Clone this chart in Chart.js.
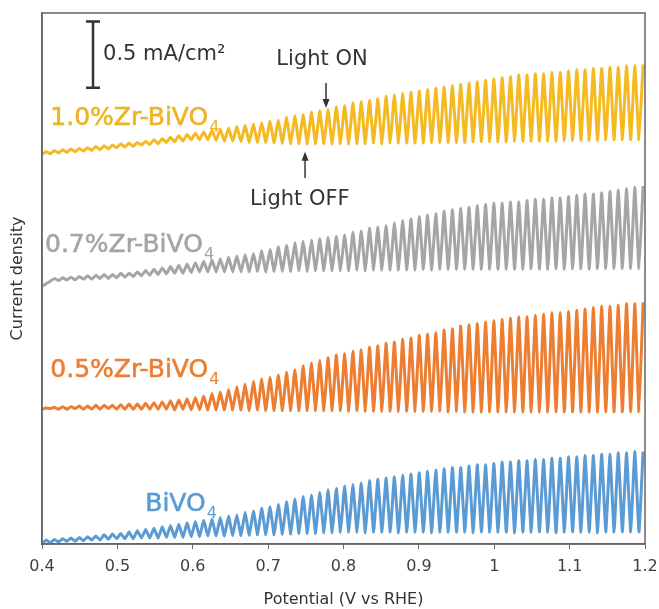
<!DOCTYPE html>
<html lang="en">
<head>
    <title>Chopped-light LSV of Zr-doped BiVO4</title>
    <script src="https://cdn.jsdelivr.net/npm/chart.js"></script>
    <style>
        body { margin: 0; background: #fff; }
        #chartContainer { width: 659px; height: 609px; }
    </style>
</head>
<body>
<div id="chartContainer">
    <canvas id="lsvChart"></canvas>
</div>

<script>
// Potential (V vs RHE) of each dark / light point of the chopped sweep
const darkPotential = [
    0.4, 0.411, 0.422, 0.433, 0.444, 0.455, 0.466, 0.477, 0.488, 0.499,
    0.51, 0.521, 0.532, 0.543, 0.554, 0.565, 0.576, 0.587, 0.598, 0.609,
    0.62, 0.631, 0.642, 0.653, 0.664, 0.675, 0.686, 0.697, 0.708, 0.719,
    0.73, 0.741, 0.752, 0.763, 0.774, 0.785, 0.796, 0.807, 0.818, 0.829,
    0.84, 0.851, 0.862, 0.873, 0.884, 0.895, 0.906, 0.917, 0.928, 0.939,
    0.95, 0.961, 0.972, 0.983, 0.994, 1.005, 1.016, 1.027, 1.038, 1.049,
    1.06, 1.071, 1.082, 1.093, 1.104, 1.115, 1.126, 1.137, 1.148, 1.159,
    1.17, 1.181, 1.192
];
const lightPotential = [
    0.4055, 0.4165, 0.4275, 0.4385, 0.4495, 0.4605, 0.4715, 0.4825, 0.4935, 0.5045,
    0.5155, 0.5265, 0.5375, 0.5485, 0.5595, 0.5705, 0.5815, 0.5925, 0.6035, 0.6145,
    0.6255, 0.6365, 0.6475, 0.6585, 0.6695, 0.6805, 0.6915, 0.7025, 0.7135, 0.7245,
    0.7355, 0.7465, 0.7575, 0.7685, 0.7795, 0.7905, 0.8015, 0.8125, 0.8235, 0.8345,
    0.8455, 0.8565, 0.8675, 0.8785, 0.8895, 0.9005, 0.9115, 0.9225, 0.9335, 0.9445,
    0.9555, 0.9665, 0.9775, 0.9885, 0.9995, 1.0105, 1.0215, 1.0325, 1.0435, 1.0545,
    1.0655, 1.0765, 1.0875, 1.0985, 1.1095, 1.1205, 1.1315, 1.1425, 1.1535, 1.1645,
    1.1755, 1.1865, 1.1975
];

// Series names and the vertical offset (mA/cm2) each trace is stacked at
const seriesNames = ['BiVO4', '0.5%Zr-BiVO4', '0.7%Zr-BiVO4', '1.0%Zr-BiVO4'];
const traceOffset = [0, 1.0, 1.95, 2.95];

// Current density (mA/cm2, relative to the trace offset) - light off
const bivo4Dark = [
    0.00, 0.01, 0.015, 0.02, 0.02, 0.025, 0.03, 0.03, 0.035, 0.04,
    0.04, 0.04, 0.045, 0.045, 0.045, 0.05, 0.05, 0.05, 0.055, 0.055,
    0.06, 0.06, 0.06, 0.065, 0.065, 0.065, 0.07, 0.07, 0.07, 0.075,
    0.075, 0.08, 0.08, 0.08, 0.085, 0.085, 0.09, 0.09, 0.09, 0.085,
    0.09, 0.09, 0.09, 0.085, 0.09, 0.09, 0.09, 0.085, 0.09, 0.09,
    0.09, 0.09, 0.085, 0.09, 0.09, 0.09, 0.09, 0.085, 0.09, 0.09,
    0.09, 0.09, 0.085, 0.09, 0.09, 0.09, 0.09, 0.085, 0.09, 0.09,
    0.09, 0.09, 0.09
];
const zr05Dark = [
    0.02, 0.025, 0.02, 0.02, 0.025, 0.02, 0.02, 0.02, 0.025, 0.02,
    0.02, 0.02, 0.02, 0.02, 0.02, 0.02, 0.015, 0.02, 0.015, 0.015,
    0.015, 0.015, 0.015, 0.015, 0.015, 0.01, 0.015, 0.01, 0.01, 0.01,
    0.01, 0.01, 0.01, 0.01, 0.01, 0.01, 0.01, 0.005, 0.01, 0.005,
    0.005, 0.005, 0.005, 0.005, 0.005, 0.005, 0.005, 0.005, 0.005, 0.0,
    0.005, 0.0, 0.0, 0.0, 0.0, 0.0, 0.0, 0.0, 0.0, 0.0,
    0.0, 0.0, 0.0, 0.0, 0.0, 0.0, 0.0, 0.0, 0.0, 0.0,
    0.0, 0.0, 0.0
];
const zr07Dark = [
    0.00, 0.04, 0.045, 0.05, 0.05, 0.055, 0.055, 0.06, 0.06, 0.065,
    0.07, 0.075, 0.08, 0.085, 0.09, 0.095, 0.10, 0.10, 0.105, 0.11,
    0.11, 0.11, 0.11, 0.11, 0.11, 0.11, 0.115, 0.11, 0.115, 0.115,
    0.115, 0.12, 0.115, 0.12, 0.12, 0.12, 0.12, 0.12, 0.125, 0.12,
    0.125, 0.125, 0.125, 0.125, 0.125, 0.125, 0.13, 0.125, 0.13, 0.13,
    0.13, 0.13, 0.13, 0.13, 0.13, 0.13, 0.13, 0.13, 0.13, 0.135,
    0.13, 0.13, 0.135, 0.13, 0.135, 0.135, 0.13, 0.135, 0.135, 0.135,
    0.135, 0.135, 0.135
];
const zr10Dark = [
    0.00, 0.005, 0.01, 0.015, 0.02, 0.025, 0.03, 0.035, 0.04, 0.05,
    0.055, 0.06, 0.07, 0.075, 0.08, 0.09, 0.095, 0.10, 0.11, 0.11,
    0.11, 0.105, 0.10, 0.10, 0.095, 0.09, 0.09, 0.09, 0.085, 0.085,
    0.08, 0.08, 0.08, 0.08, 0.08, 0.08, 0.08, 0.08, 0.08, 0.08,
    0.085, 0.08, 0.085, 0.085, 0.085, 0.085, 0.085, 0.09, 0.09, 0.09,
    0.09, 0.09, 0.095, 0.095, 0.095, 0.095, 0.095, 0.10, 0.10, 0.10,
    0.10, 0.10, 0.10, 0.105, 0.105, 0.105, 0.105, 0.105, 0.11, 0.11,
    0.11, 0.11, 0.11
];

// Current density (mA/cm2, relative to the trace offset) - light on
const bivo4Light = [
    0.03, 0.035, 0.04, 0.045, 0.05, 0.055, 0.06, 0.07, 0.075, 0.08,
    0.09, 0.10, 0.11, 0.12, 0.13, 0.14, 0.15, 0.16, 0.17, 0.18,
    0.19, 0.20, 0.21, 0.22, 0.24, 0.25, 0.27, 0.28, 0.30, 0.32,
    0.34, 0.36, 0.37, 0.39, 0.41, 0.42, 0.44, 0.45, 0.46, 0.48,
    0.49, 0.50, 0.51, 0.52, 0.53, 0.54, 0.55, 0.56, 0.57, 0.58,
    0.58, 0.59, 0.60, 0.60, 0.61, 0.62, 0.62, 0.63, 0.63, 0.64,
    0.64, 0.65, 0.65, 0.66, 0.66, 0.67, 0.67, 0.68, 0.68, 0.69,
    0.69, 0.70, 0.70
];
const zr05Light = [
    0.03, 0.035, 0.04, 0.04, 0.045, 0.045, 0.05, 0.05, 0.05, 0.055,
    0.06, 0.06, 0.065, 0.07, 0.075, 0.085, 0.09, 0.10, 0.11, 0.12,
    0.14, 0.15, 0.17, 0.19, 0.21, 0.23, 0.25, 0.26, 0.28, 0.30,
    0.32, 0.35, 0.37, 0.39, 0.41, 0.43, 0.44, 0.46, 0.47, 0.49,
    0.50, 0.52, 0.53, 0.55, 0.56, 0.58, 0.59, 0.60, 0.62, 0.63,
    0.65, 0.66, 0.67, 0.68, 0.69, 0.70, 0.71, 0.72, 0.72, 0.73,
    0.74, 0.75, 0.75, 0.76, 0.77, 0.78, 0.79, 0.80, 0.80, 0.81,
    0.82, 0.82, 0.83
];
const zr07Light = [
    0.02, 0.06, 0.065, 0.07, 0.075, 0.08, 0.085, 0.09, 0.09, 0.10,
    0.10, 0.11, 0.12, 0.13, 0.14, 0.15, 0.16, 0.17, 0.18, 0.19,
    0.20, 0.21, 0.22, 0.23, 0.24, 0.25, 0.27, 0.28, 0.30, 0.31,
    0.33, 0.34, 0.35, 0.36, 0.37, 0.38, 0.39, 0.41, 0.42, 0.44,
    0.45, 0.46, 0.48, 0.50, 0.51, 0.53, 0.54, 0.55, 0.57, 0.58,
    0.59, 0.60, 0.61, 0.62, 0.63, 0.63, 0.64, 0.64, 0.65, 0.66,
    0.66, 0.67, 0.67, 0.68, 0.69, 0.70, 0.70, 0.71, 0.72, 0.73,
    0.74, 0.75, 0.76
];
const zr10Light = [
    0.02, 0.03, 0.035, 0.04, 0.045, 0.05, 0.06, 0.065, 0.07, 0.08,
    0.085, 0.09, 0.10, 0.11, 0.12, 0.13, 0.14, 0.15, 0.16, 0.17,
    0.18, 0.19, 0.20, 0.21, 0.22, 0.23, 0.24, 0.25, 0.26, 0.28,
    0.29, 0.30, 0.32, 0.33, 0.34, 0.36, 0.37, 0.39, 0.40, 0.41,
    0.42, 0.44, 0.45, 0.46, 0.47, 0.48, 0.49, 0.50, 0.51, 0.52,
    0.53, 0.54, 0.55, 0.56, 0.57, 0.58, 0.59, 0.60, 0.60, 0.61,
    0.61, 0.62, 0.62, 0.63, 0.64, 0.64, 0.65, 0.65, 0.66, 0.66,
    0.67, 0.67, 0.68
];

const seriesDark = [bivo4Dark, zr05Dark, zr07Dark, zr10Dark];
const seriesLight = [bivo4Light, zr05Light, zr07Light, zr10Light];
const seriesColors = ['#5B9BD5', '#ED7D31', '#A5A5A5', '#F5B921'];

// x axis ticks
const xTicks = [0.4, 0.5, 0.6, 0.7, 0.8, 0.9, 1.0, 1.1, 1.2];

// Text labels, anchored in data units (potential, current density)
const seriesLabels = [
    { text: 'BiVO', sub: '4', x: 0.537, y: 0.30, color: '#5B9BD5' },
    { text: '0.5%Zr-BiVO', sub: '4', x: 0.411, y: 1.31, color: '#ED7D31' },
    { text: '0.7%Zr-BiVO', sub: '4', x: 0.404, y: 2.26, color: '#A5A5A5' },
    { text: '1.0%Zr-BiVO', sub: '4', x: 0.411, y: 3.22, color: '#F0B323' }
];
const scaleBar = { x: 0.4677, from: 3.455, size: 0.5, label: '0.5 mA/cm²' };
const lightOn = { text: 'Light ON', x: 0.7715, y: 3.67, arrowFrom: 3.49, arrowTo: 3.30, arrowX: 0.7768 };
const lightOff = { text: 'Light OFF', x: 0.742, y: 2.61, arrowFrom: 2.77, arrowTo: 2.97, arrowX: 0.749 };

function buildDatasets() {
    return seriesNames.map((name, s) => {
        const pts = [];
        for (let i = 0; i < darkPotential.length; i++) {
            pts.push({ x: darkPotential[i], y: traceOffset[s] + seriesDark[s][i] });
            pts.push({ x: lightPotential[i], y: traceOffset[s] + seriesLight[s][i] });
        }
        return {
            label: name,
            data: pts,
            borderColor: seriesColors[s],
            borderWidth: 3,
            pointRadius: 0,
            tension: 0.1,
            borderJoinStyle: 'round',
            fill: false
        };
    });
}

function drawArrow(ctx, x, y1, y2) {
    const dir = y2 > y1 ? 1 : -1;
    ctx.beginPath();
    ctx.moveTo(x, y1);
    ctx.lineTo(x, y2 - dir * 6);
    ctx.stroke();
    ctx.beginPath();
    ctx.moveTo(x, y2);
    ctx.lineTo(x - 3.5, y2 - dir * 9);
    ctx.lineTo(x + 3.5, y2 - dir * 9);
    ctx.closePath();
    ctx.fill();
}

const annotationPlugin = {
    id: 'annotations',
    afterDatasetsDraw(chart) {
        const ctx = chart.ctx;
        const xs = chart.scales.x, ys = chart.scales.y;
        const area = chart.chartArea;
        ctx.save();

        // frame on top and right
        ctx.strokeStyle = '#666';
        ctx.lineWidth = 1.5;
        ctx.strokeRect(area.left, area.top, area.right - area.left, area.bottom - area.top);

        // series labels
        ctx.textBaseline = 'middle';
        ctx.textAlign = 'left';
        seriesLabels.forEach(l => {
            const px = xs.getPixelForValue(l.x), py = ys.getPixelForValue(l.y);
            ctx.fillStyle = l.color;
            ctx.strokeStyle = l.color;
            ctx.lineWidth = 0.6;
            ctx.font = '25px "DejaVu Sans"';
            ctx.fillText(l.text, px, py);
            ctx.strokeText(l.text, px, py);
            const w = ctx.measureText(l.text).width;
            ctx.font = '16px "DejaVu Sans"';
            ctx.fillText(l.sub, px + w + 1, py + 9);
        });

        // scale bar
        ctx.strokeStyle = '#333';
        ctx.fillStyle = '#333';
        ctx.lineWidth = 2.5;
        const bx = xs.getPixelForValue(scaleBar.x);
        const by1 = ys.getPixelForValue(scaleBar.from);
        const by2 = ys.getPixelForValue(scaleBar.from + scaleBar.size);
        ctx.beginPath();
        ctx.moveTo(bx, by1); ctx.lineTo(bx, by2);
        ctx.moveTo(bx - 7, by1); ctx.lineTo(bx + 7, by1);
        ctx.moveTo(bx - 7, by2); ctx.lineTo(bx + 7, by2);
        ctx.stroke();
        ctx.font = '21px "DejaVu Sans"';
        ctx.fillText(scaleBar.label, bx + 10, (by1 + by2) / 2);

        // light on / off notes
        ctx.textAlign = 'center';
        ctx.lineWidth = 1.5;
        [lightOn, lightOff].forEach(n => {
            ctx.fillText(n.text, xs.getPixelForValue(n.x), ys.getPixelForValue(n.y));
            drawArrow(ctx, xs.getPixelForValue(n.arrowX),
                ys.getPixelForValue(n.arrowFrom), ys.getPixelForValue(n.arrowTo));
        });
        ctx.restore();
    }
};

const ctx = document.getElementById('lsvChart').getContext('2d');
new Chart(ctx, {
    type: 'line',
    data: { datasets: buildDatasets() },
    options: {
        responsive: true,
        maintainAspectRatio: false,
        animation: false,
        layout: { padding: { top: 13, right: 14, left: 0, bottom: 0 } },
        plugins: { legend: { display: false }, tooltip: { enabled: false } },
        scales: {
            x: {
                type: 'linear',
                min: 0.4,
                max: 1.2,
                afterFit: s => { s.height = 65; s.paddingLeft = 0; s.paddingRight = 0; },
                afterBuildTicks: s => { s.ticks = xTicks.map(v => ({ value: v })); },
                ticks: {
                    padding: 8,
                    color: '#404040',
                    font: { family: 'DejaVu Sans', size: 16 },
                    maxRotation: 0,
                    callback: v => String(parseFloat(v.toFixed(1)))
                },
                grid: { drawOnChartArea: false, drawTicks: true, tickLength: 5, color: '#666' },
                border: { display: true, color: '#666', width: 1.5 },
                title: {
                    display: true,
                    text: 'Potential (V vs RHE)',
                    color: '#333',
                    font: { family: 'DejaVu Sans', size: 16 },
                    padding: { top: 0, bottom: 0 }
                }
            },
            y: {
                min: 0,
                max: 4.02,
                afterFit: s => { s.width = 42; },
                ticks: { display: false },
                grid: { drawOnChartArea: false, drawTicks: false },
                border: { display: true, color: '#666', width: 1.5 },
                title: {
                    display: true,
                    text: 'Current density',
                    color: '#333',
                    font: { family: 'DejaVu Sans', size: 16 },
                    padding: { top: 8, bottom: 0 }
                }
            }
        }
    },
    plugins: [annotationPlugin]
});
</script>
</body>
</html>
